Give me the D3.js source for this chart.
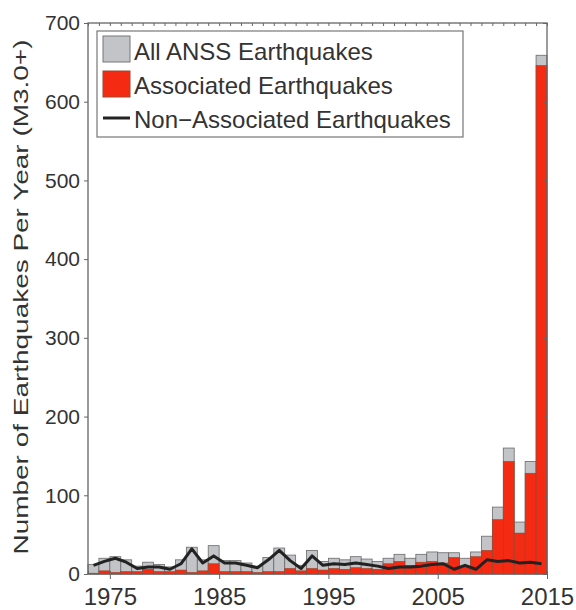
<!DOCTYPE html>
<html>
<head>
<meta charset="utf-8">
<script src="https://cdn.jsdelivr.net/npm/d3@7"></script>
<style>
  body { margin: 0; background: #fff; }
  text { font-family: "Liberation Sans", Arial, Helvetica, sans-serif; fill: #333; }
</style>
</head>
<body>
<svg class="quake-chart" width="576" height="610"></svg>
<script>
// years 1973 - 2014
var years = d3.range(1973, 2015);
// All ANSS earthquakes M3.0+ per year
var allQuakes = [12, 20, 22, 18, 10, 15, 12, 9, 18, 34,
  18, 36, 17, 17, 14, 10, 21, 33, 24, 11,
  30, 16, 20, 18, 22, 19, 16, 20, 25, 20,
  25, 28, 27, 27, 20, 28, 48, 85, 160, 66,
  143, 659];
// associated with injection wells
var associated = [1, 4, 2, 3, 3, 6, 3, 3, 5, 2,
  4, 13, 3, 3, 3, 2, 3, 3, 7, 4,
  7, 5, 7, 6, 8, 7, 6, 13, 16, 11,
  15, 16, 14, 21, 9, 22, 30, 69, 143, 52,
  128, 646];
// not associated
var nonAssociated = [11, 16, 20, 15, 7, 9, 9, 6, 13, 32,
  14, 23, 14, 14, 11, 8, 18, 30, 17, 7,
  23, 11, 13, 12, 14, 12, 10, 7, 9, 9,
  10, 12, 13, 6, 11, 6, 18, 16, 17, 14,
  15, 13];
var xTickLabels = [1975, 1985, 1995, 2005, 2015];
var yTicks = [0, 100, 200, 300, 400, 500, 600, 700];
var legendLabels = ["All ANSS Earthquakes", "Associated Earthquakes", "Non\u2212Associated Earthquakes"];

var svg = d3.select(".quake-chart");
// note: "top" is taken by window.top, so use plot* names
var plotLeft = 88, plotRight = 547, plotTop = 23, plotBottom = 574;
var axisColor = "#666";
var greyFill = "#c3c4c8", redFill = "#f42a12";

var x = d3.scaleLinear().domain([1973, 2015]).range([plotLeft, plotRight]);
var y = d3.scaleLinear().domain([0, 700]).range([plotBottom, plotTop]);

var rows = years.map(function (yr, i) {
  return { year: yr, all: allQuakes[i], assoc: associated[i], non: nonAssociated[i] };
});

// bars
var bars = svg.append("g").attr("class", "bars");
bars.selectAll("rect.all").data(rows).enter().append("rect")
  .attr("class", "all")
  .attr("x", function (d) { return x(d.year); })
  .attr("width", function (d) { return x(d.year + 1) - x(d.year); })
  .attr("y", function (d) { return y(d.all); })
  .attr("height", function (d) { return y(0) - y(d.all); })
  .attr("fill", greyFill).attr("stroke", "#6a6a6a").attr("stroke-width", 0.8);
bars.selectAll("rect.assoc").data(rows).enter().append("rect")
  .attr("class", "assoc")
  .attr("x", function (d) { return x(d.year); })
  .attr("width", function (d) { return x(d.year + 1) - x(d.year); })
  .attr("y", function (d) { return y(d.assoc); })
  .attr("height", function (d) { return y(0) - y(d.assoc); })
  .attr("fill", redFill).attr("stroke", "#8a4a30").attr("stroke-width", 0.6);

// non-associated line
var line = d3.line()
  .x(function (d) { return x(d.year + 0.5); })
  .y(function (d) { return y(d.non); });
svg.append("path").datum(rows)
  .attr("d", line)
  .attr("fill", "none").attr("stroke", "#222").attr("stroke-width", 3)
  .attr("stroke-linejoin", "round");

// frame
svg.append("rect")
  .attr("x", plotLeft).attr("y", plotTop)
  .attr("width", plotRight - plotLeft).attr("height", plotBottom - plotTop)
  .attr("fill", "none").attr("stroke", axisColor).attr("stroke-width", 1.3);

// y axis (left, outward ticks) and right side inward ticks
var yAxis = svg.append("g").attr("transform", "translate(" + plotLeft + ",0)")
  .call(d3.axisLeft(y).tickValues(yTicks).tickSize(4).tickPadding(4));
yAxis.select(".domain").remove();
yAxis.selectAll("line").attr("stroke", axisColor);
yAxis.selectAll("text").attr("font-size", 21).attr("fill", "#333")
  .style("font-family", "Liberation Sans, Arial, sans-serif");

var yRight = svg.append("g").attr("transform", "translate(" + plotRight + ",0)")
  .call(d3.axisRight(y).tickValues(yTicks).tickSize(-4).tickFormat(""));
yRight.select(".domain").remove();
yRight.selectAll("line").attr("stroke", axisColor);

// x axis: yearly inward ticks top and bottom, labels every decade
var xBottom = svg.append("g").attr("transform", "translate(0," + plotBottom + ")")
  .call(d3.axisBottom(x).tickValues(d3.range(1973, 2016)).tickSize(-3).tickFormat(""));
xBottom.select(".domain").remove();
xBottom.selectAll("line").attr("stroke", axisColor);

var xLabels = svg.append("g").attr("transform", "translate(0," + plotBottom + ")")
  .call(d3.axisBottom(x).tickValues(xTickLabels).tickSize(5).tickPadding(9).tickFormat(d3.format("d")));
xLabels.select(".domain").remove();
xLabels.selectAll("line").attr("stroke", axisColor);
xLabels.selectAll("text").attr("font-size", 24).attr("fill", "#333")
  .style("font-family", "Liberation Sans, Arial, sans-serif");

var xTop = svg.append("g").attr("transform", "translate(0," + plotTop + ")")
  .call(d3.axisTop(x).tickValues(d3.range(1973, 2016)).tickSize(-3).tickFormat(""));
xTop.select(".domain").remove();
xTop.selectAll("line").attr("stroke", axisColor);

// y axis title
svg.append("text")
  .attr("transform", "translate(28," + 297 + ") rotate(-90)")
  .attr("text-anchor", "middle")
  .attr("font-size", 20)
  .attr("textLength", 515)
  .attr("lengthAdjust", "spacingAndGlyphs")
  .text("Number of Earthquakes Per Year (M3.0+)");

// legend
var legend = svg.append("g").attr("class", "legend");
legend.append("rect")
  .attr("x", 97).attr("y", 31).attr("width", 366).attr("height", 106)
  .attr("fill", "#fff").attr("stroke", "#777").attr("stroke-width", 1.2);
legend.append("rect").attr("x", 103).attr("y", 36).attr("width", 27).attr("height", 26)
  .attr("fill", greyFill).attr("stroke", "#777").attr("stroke-width", 1);
legend.append("rect").attr("x", 103).attr("y", 71).attr("width", 27).attr("height", 26)
  .attr("fill", redFill).attr("stroke", "#9a4a30").attr("stroke-width", 1);
legend.append("line").attr("x1", 103).attr("x2", 130).attr("y1", 118).attr("y2", 118)
  .attr("stroke", "#222").attr("stroke-width", 3);
legend.selectAll("text").data(legendLabels).enter().append("text")
  .attr("x", 134)
  .attr("y", function (d, i) { return 60 + i * 34; })
  .attr("font-size", 24)
  .text(function (d) { return d; });
</script>
</body>
</html>
